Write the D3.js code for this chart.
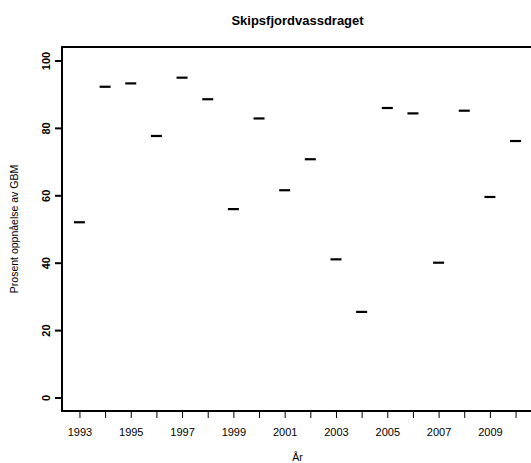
<!DOCTYPE html>
<html>
<head>
<meta charset="utf-8">
<script src="https://cdn.jsdelivr.net/npm/d3@7"></script>
<style>
  body { margin: 0; background: #fff; }
  text { font-family: "Liberation Sans", Arial, sans-serif; }
</style>
</head>
<body>
<div id="chart"></div>
<script>
// Data
const years = [1993, 1994, 1995, 1996, 1997, 1998, 1999, 2000, 2001,
               2002, 2003, 2004, 2005, 2006, 2007, 2008, 2009, 2010];
const values = [52, 92.2, 93.2, 77.6, 94.9, 88.5, 55.9, 82.8, 61.5,
                70.7, 41.0, 25.4, 85.9, 84.3, 40.0, 85.1, 59.5, 76.1];
const xTickLabels = [1993, 1995, 1997, 1999, 2001, 2003, 2005, 2007, 2009];
const yTicks = [0, 20, 40, 60, 80, 100];

const width = 531, height = 463;
const plot = { left: 62, right: 533, top: 47, bottom: 411 };

const svg = d3.select("#chart").append("svg")
    .attr("width", width)
    .attr("height", height);

// R style 4% padding on both axes
const x = d3.scaleLinear()
    .domain([1993 - 0.68, 2010 + 0.68])
    .range([plot.left, plot.right]);

const y = d3.scaleLinear()
    .domain([-4, 104])
    .range([plot.bottom, plot.top]);

// Box
svg.append("rect")
    .attr("x", plot.left)
    .attr("y", plot.top)
    .attr("width", plot.right - plot.left)
    .attr("height", plot.bottom - plot.top)
    .attr("fill", "none")
    .attr("stroke", "#000")
    .attr("stroke-width", 2);

// X axis: ticks every year, labels only on odd years
const xAxis = d3.axisBottom(x)
    .tickValues(years)
    .tickSize(7)
    .tickPadding(10)
    .tickFormat(d => xTickLabels.includes(d) ? d : "");

const gx = svg.append("g")
    .attr("transform", `translate(0,${plot.bottom})`)
    .call(xAxis);
gx.select(".domain").remove();
gx.selectAll("line").attr("stroke", "#000").attr("stroke-width", 1);
gx.selectAll("text")
    .attr("font-size", "11px")
    .attr("fill", "#000");

// Y axis with rotated bold labels
const yAxis = d3.axisLeft(y)
    .tickValues(yTicks)
    .tickSize(7)
    .tickFormat(d => d);

const gy = svg.append("g")
    .attr("transform", `translate(${plot.left},0)`)
    .call(yAxis);
gy.select(".domain").remove();
gy.selectAll("line").attr("stroke", "#000").attr("stroke-width", 2);
gy.selectAll("text")
    .attr("x", null)
    .attr("dy", null)
    .attr("transform", "translate(-16,0) rotate(-90)")
    .attr("text-anchor", "middle")
    .attr("dominant-baseline", "central")
    .attr("font-size", "11px")
    .attr("font-weight", "bold")
    .attr("fill", "#000");

// Points drawn as short horizontal dashes
svg.append("g")
    .selectAll("line")
    .data(years)
    .join("line")
    .attr("x1", (d) => x(d) - 5.5)
    .attr("x2", (d) => x(d) + 5.5)
    .attr("y1", (d, i) => y(values[i]))
    .attr("y2", (d, i) => y(values[i]))
    .attr("stroke", "#000")
    .attr("stroke-width", 2.2);

// Title
svg.append("text")
    .attr("x", (plot.left + plot.right) / 2)
    .attr("y", 25)
    .attr("text-anchor", "middle")
    .attr("font-size", "13px")
    .attr("font-weight", "bold")
    .text("Skipsfjordvassdraget");

// Axis titles
svg.append("text")
    .attr("x", (plot.left + plot.right) / 2)
    .attr("y", 461)
    .attr("text-anchor", "middle")
    .attr("font-size", "10.5px")
    .text("År");

svg.append("text")
    .attr("transform", `translate(18,${(plot.top + plot.bottom) / 2}) rotate(-90)`)
    .attr("text-anchor", "middle")
    .attr("font-size", "10.5px")
    .text("Prosent oppnåelse av GBM");
</script>
</body>
</html>
